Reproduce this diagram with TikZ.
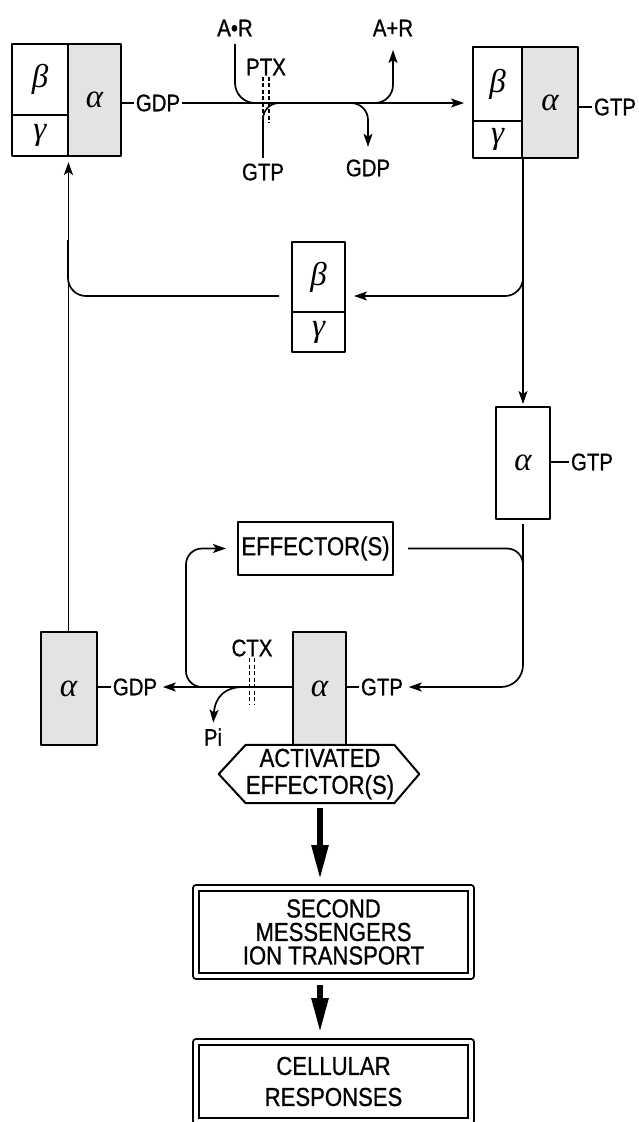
\documentclass[tikz,border=0pt]{standalone}
\usepackage{fontspec}
\setmainfont[FakeStretch=0.85,FakeBold=0.8]{Liberation Sans}
\newfontfamily\grkface{Liberation Serif}
\usetikzlibrary{arrows.meta}
\newcommand\grk{\fontsize{33}{35}\grkface\itshape}
\newcommand\lblfont{\fontsize{24}{26}\selectfont}
\newcommand\boxfont{\fontsize{26}{27}\selectfont}
\tikzset{
  unit/.style={draw, line width=2pt, inner sep=0pt, font=\grk},
  stipple/.style={unit, fill=black!11},
  dbl/.style={draw, double, double distance=4pt, line width=1.8pt, inner sep=0pt, align=center},
  lbl/.style={inner sep=1.5pt, font=\lblfont},
  conn/.style={line width=1.7pt},
  toxin/.style={line width=1.5pt, dash pattern=on 4pt off 2.5pt},
  fat/.style={line width=5.5pt, -{Triangle[length=34pt,width=16pt]}},
  >={Stealth[length=13pt,width=9pt,inset=3pt]}
}
\begin{document}
\begin{tikzpicture}[x=1pt, y=-1pt, line join=round]
\useasboundingbox (0,0) rectangle (638,1122);
% inactive heterotrimer
\node[unit, minimum width=56pt, minimum height=71pt] (betaL) at (40,79.5) {β};
\node[unit, minimum width=56pt, minimum height=41pt] (gammaL) at (40,135.5) {γ};
\node[stipple, minimum width=53pt, minimum height=112pt] (alphaL) at (94.5,100) {α};
% activated heterotrimer
\node[unit, minimum width=49pt, minimum height=74pt] (betaR) at (497.5,84) {β};
\node[unit, minimum width=49pt, minimum height=37pt] (gammaR) at (497.5,139.5) {γ};
\node[stipple, minimum width=56pt, minimum height=111pt] (alphaR) at (550,102.5) {α};
% free subunits
\node[unit, minimum width=53pt, minimum height=70pt] (betaM) at (318.5,277) {β};
\node[unit, minimum width=53pt, minimum height=40pt] (gammaM) at (318.5,332) {γ};
\node[unit, minimum width=54pt, minimum height=112pt] (alphaF) at (523,463) {α};
\node[unit, font=\boxfont, minimum width=155pt, minimum height=53pt] (eff) at (315.5,548.5) {EFFECTOR(S)};
\node[stipple, minimum width=56pt, minimum height=113pt] (alphaD) at (68.5,688.5) {α};
\node[stipple, minimum width=53pt, minimum height=113pt] (alphaA) at (319.5,688.5) {α};
\node[align=center, font=\boxfont, inner sep=0pt, minimum width=140pt, minimum height=58pt] (act) at (320,774) {ACTIVATED\\EFFECTOR(S)};
\draw[line width=2pt] (act.north west) -- (act.north east) -- ([xshift=25pt]act.east) -- (act.south east) -- (act.south west) -- ([xshift=-27pt]act.west) -- cycle;
\node[dbl, font=\fontsize{26}{23.5}\selectfont, minimum width=275pt, minimum height=88pt] (second) at (333.5,932) {SECOND\\MESSENGERS\\ION TRANSPORT};
\node[dbl, font=\fontsize{26}{31}\selectfont, minimum width=275pt, minimum height=79pt] (cell) at (333.5,1081.5) {CELLULAR\\RESPONSES};
% labels
\node[lbl] (arL) at (235,28) {A•R};
\node[lbl] (apL) at (393,28) {A+R};
\node[lbl] (ptxL) at (266,67) {PTX};
\node[lbl] (gdpL) at (158,103) {GDP};
\node[lbl] (gtpT) at (263,172) {GTP};
\node[lbl] (gdpT) at (368,168) {GDP};
\node[lbl] (gtpR) at (615,107) {GTP};
\node[lbl] (gtpF) at (592,462) {GTP};
\node[lbl] (ctxL) at (252,648) {CTX};
\node[lbl] (gdpD) at (135,687) {GDP};
\node[lbl] (gtpA) at (382,687) {GTP};
\node[lbl] (piL) at (213,737) {Pi};
\coordinate (jAR) at (264,103);
\coordinate (jGT) at (288,103);
\coordinate (jGD) at (348,103);
\coordinate (jAP) at (373,103);
\coordinate (jBG) at (523,258);
\coordinate (jUp) at (68,240);
\coordinate (jE) at (523,640);
\coordinate (jEff) at (214,687);
\coordinate (jPi) at (243,687);
% GDP/GTP exchange
\foreach \dx in {-3,3} \draw[toxin] ([xshift=\dx pt]ptxL.south) -- ++(0,46);
\draw[conn] (alphaL.east |- gdpL) -- (gdpL.west);
\draw[conn,->,shorten >=8pt] (gdpL.east) -- (gdpL -| betaR.west);
\draw[conn,rounded corners=20pt,shorten <=6pt] (arL.south) |- (jAR);
\draw[conn,rounded corners=16pt,shorten <=4pt] (gtpT.north) |- (jGT);
\draw[conn,->,rounded corners=18pt,shorten >=12pt] (jAP) -| (apL.south);
\draw[conn,->,rounded corners=17pt,shorten >=11pt] (jGD) -| (gdpT.north);
\draw[conn] (alphaR.east |- gtpR) -- (gtpR.west);
% dissociation
\draw[conn,->,shorten >=2pt] (alphaF.north |- gammaR.south) -- (alphaF.north);
\draw[conn,->,rounded corners=18pt,shorten >=8pt] (jBG) |- ([yshift=15pt]gammaM.north east);
\draw[conn,rounded corners=18pt,shorten <=12pt] ([yshift=-19pt]betaM.west) -| (jUp);
\draw[conn,->,shorten >=5pt] (alphaD.north) -- (alphaD.north |- gammaL.south);
% effector activation
\draw[conn] (alphaF.east |- gtpF) -- (gtpF.west);
\draw[conn,->,rounded corners=22pt,shorten <=4pt,shorten >=4pt] (alphaF.south) |- (gtpA.east);
\draw[conn,rounded corners=16pt,shorten <=14pt] (eff.east) -| (jE);
\draw[conn] (alphaA.east |- gtpA) -- (gtpA.west);
% hydrolysis
\foreach \dx in {-2.5,2.5} \draw[toxin] ([xshift=\dx pt]ctxL.south) -- ++(0,46);
\draw[conn,->,shorten >=4pt] (alphaA.west |- gdpD) -- (gdpD.east);
\draw[conn] (alphaD.east |- gdpD) -- (gdpD.west);
\draw[conn,->,rounded corners=16pt,shorten >=11pt] (jEff) -| ([xshift=-51pt]eff.west) -- (eff.west);
\draw[conn,->,shorten >=4pt] (jPi) .. controls (226,687) and (215,696) .. (piL.north);
% downstream
\draw[fat,shorten <=5pt,shorten >=8pt] (act.south) -- (act.south |- second.north);
\draw[fat,shorten <=8pt,shorten >=9pt] (second.south -| act.south) -- (act.south |- cell.north);
\end{tikzpicture}
\end{document}
